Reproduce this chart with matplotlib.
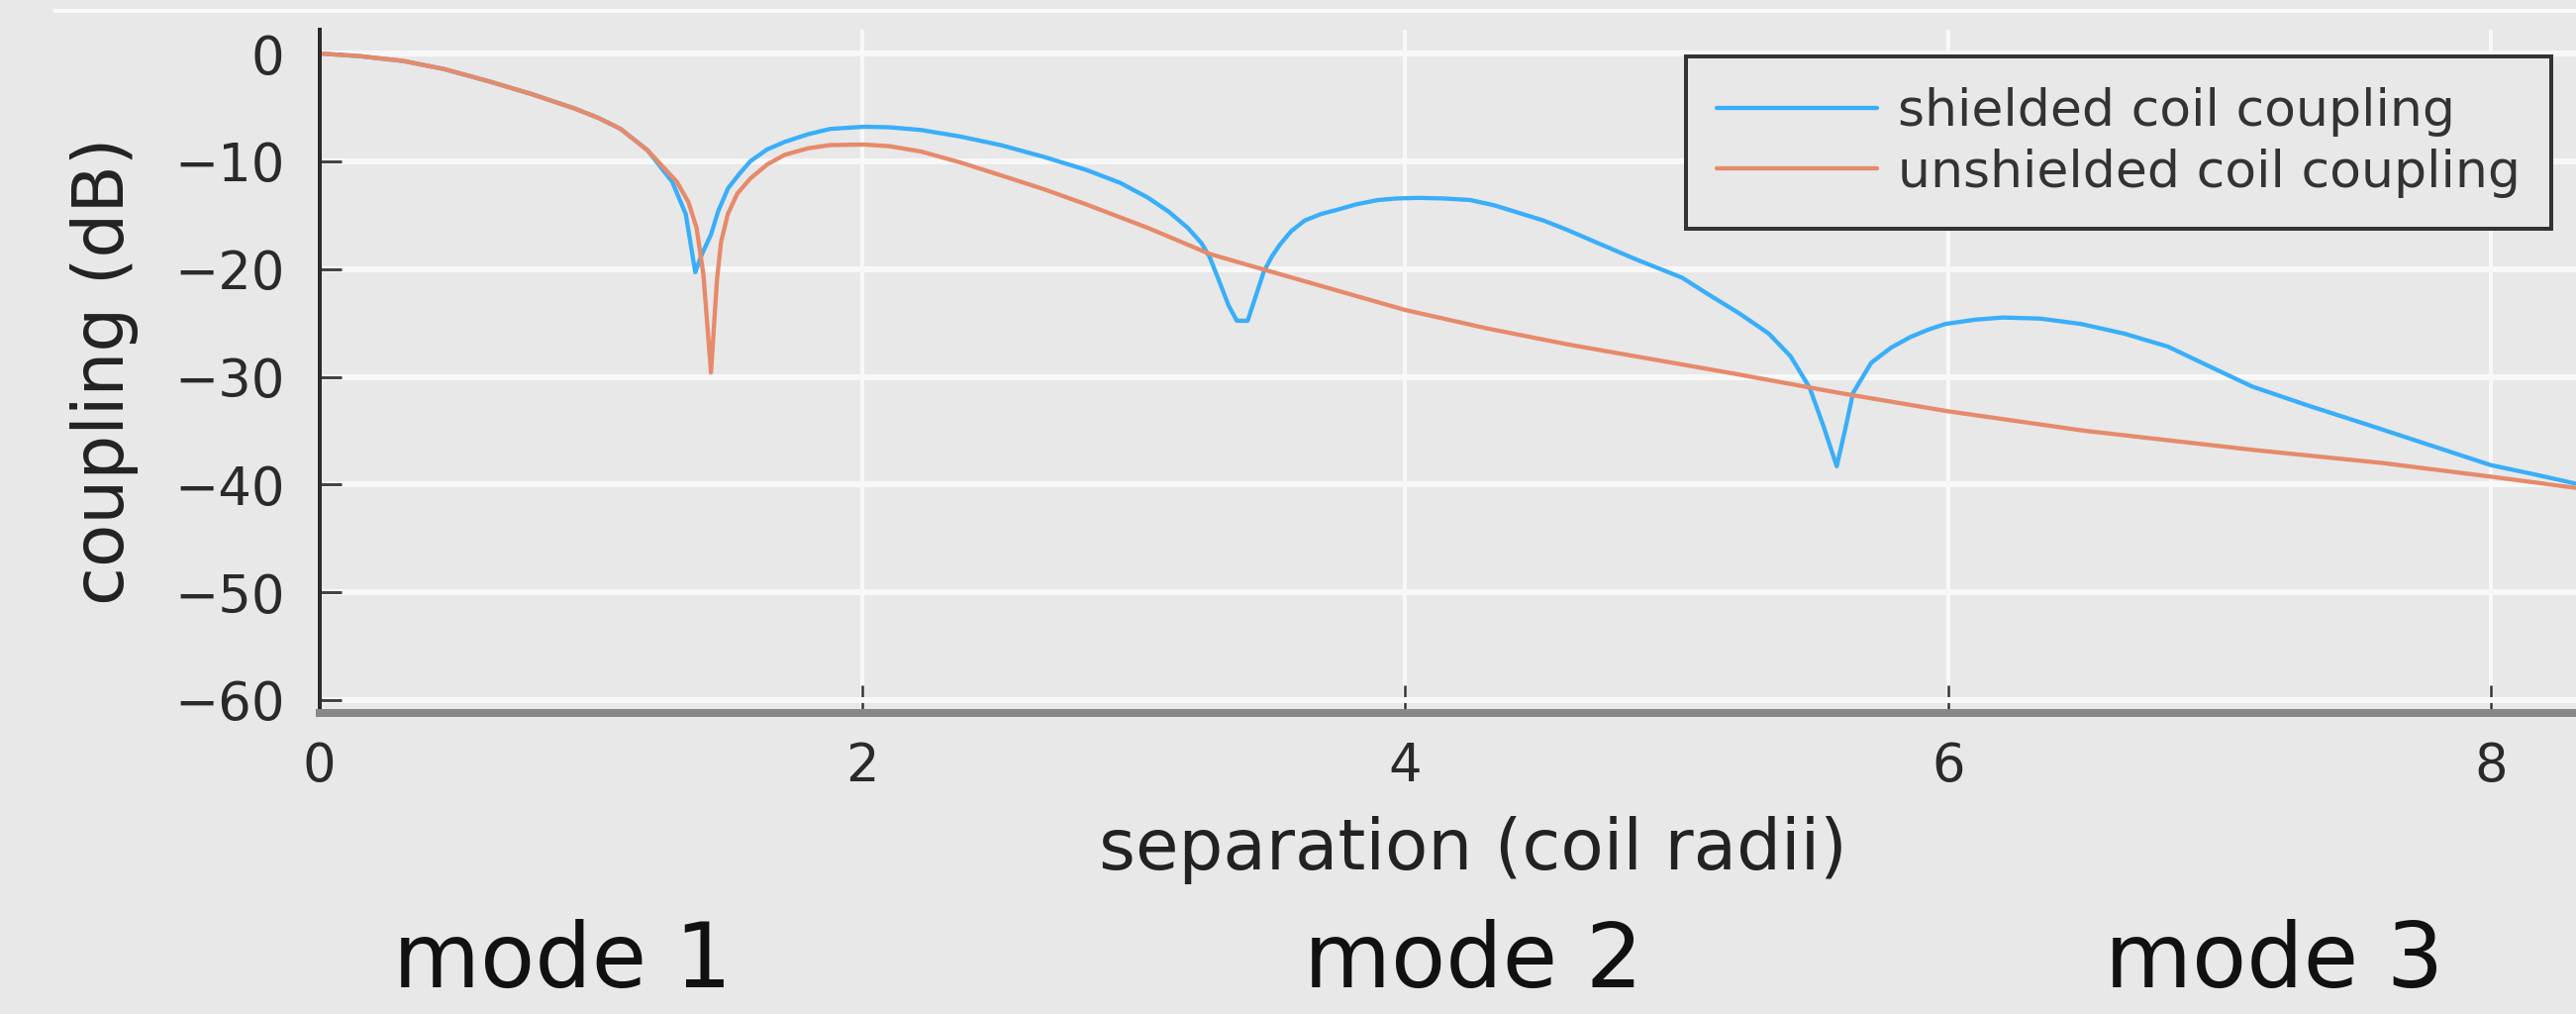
import matplotlib
matplotlib.use("Agg")
import matplotlib.pyplot as plt
from matplotlib.lines import Line2D

# ---- data ----
shielded_x = [0.0, 0.15, 0.31, 0.46, 0.62, 0.78, 0.94, 1.03, 1.11, 1.21, 1.3, 1.35, 1.385,
              1.41, 1.443, 1.47, 1.506, 1.55, 1.588, 1.65, 1.715, 1.8, 1.882, 2.008,
              2.1, 2.217, 2.36, 2.51, 2.67, 2.825, 2.95, 3.054, 3.13, 3.2, 3.25, 3.28,
              3.31, 3.35, 3.38, 3.42, 3.45, 3.48, 3.51, 3.54, 3.58, 3.63, 3.69, 3.75,
              3.82, 3.9, 3.97, 4.05, 4.14, 4.24, 4.33, 4.42, 4.51, 4.6, 4.72, 4.85,
              5.02, 5.12, 5.23, 5.34, 5.42, 5.49, 5.54, 5.59, 5.62, 5.65, 5.717, 5.79,
              5.862, 5.93, 5.99, 6.1, 6.2, 6.34, 6.49, 6.65, 6.81, 6.96, 7.12, 7.33,
              7.54, 7.77, 8.0, 8.15, 8.31]
shielded_db = [0.0, -0.25, -0.7, -1.45, -2.55, -3.75, -5.1, -6.0, -7.0, -9.0, -11.9, -14.9, -20.3,
               -18.6, -16.8, -14.6, -12.5, -11.1, -10.0, -8.9, -8.2, -7.5, -7.0, -6.8,
               -6.85, -7.1, -7.7, -8.5, -9.6, -10.8, -12.0, -13.4, -14.7, -16.2, -17.6, -18.9,
               -20.8, -23.4, -24.8, -24.8, -22.5, -20.2, -18.8, -17.7, -16.5, -15.5, -14.9, -14.5,
               -14.0, -13.6, -13.45, -13.4, -13.45, -13.6, -14.1, -14.8, -15.5, -16.4, -17.7, -19.1,
               -20.8, -22.4, -24.1, -26.0, -28.1, -31.0, -34.5, -38.3, -35.0, -31.5, -28.7, -27.3,
               -26.3, -25.6, -25.1, -24.7, -24.5, -24.6, -25.1, -26.0, -27.2, -29.0, -30.9, -32.7,
               -34.4, -36.3, -38.2, -39.0, -39.9]

unshielded_x = [0.0, 0.15, 0.31, 0.46, 0.62, 0.78, 0.94, 1.03, 1.11, 1.21, 1.317, 1.36, 1.39,
                1.415, 1.443, 1.465, 1.48, 1.505, 1.54, 1.588, 1.65, 1.715, 1.8, 1.882, 2.008,
                2.1, 2.217, 2.36, 2.51, 2.67, 2.825, 3.054, 3.28, 3.5, 3.75, 4.0, 4.3,
                4.6, 5.03, 5.21, 5.6, 6.0, 6.5, 7.13, 7.6, 8.01, 8.31]
unshielded_db = [0.0, -0.25, -0.7, -1.45, -2.55, -3.75, -5.1, -6.0, -7.0, -9.0, -11.9, -13.8, -16.2,
                 -20.5, -29.6, -21.0, -17.5, -14.9, -13.0, -11.6, -10.3, -9.4, -8.8, -8.5, -8.45,
                 -8.6, -9.1, -10.1, -11.3, -12.6, -14.0, -16.2, -18.6, -20.2, -22.0, -23.8, -25.5,
                 -27.0, -28.9, -29.7, -31.5, -33.2, -35.0, -36.8, -38.0, -39.3, -40.3]

series_labels = ["shielded coil coupling", "unshielded coil coupling"]
x_ticks = [0, 2, 4, 6, 8]
y_ticks = [0, -10, -20, -30, -40, -50, -60]
mode_labels = ["mode 1", "mode 2", "mode 3"]

# ---- figure ----
W, H = 2602, 1024
DPI = 100
BG = "#e8e8e8"
plt.rcParams["font.family"] = ["DejaVu Sans"]

fig = plt.figure(figsize=(W / DPI, H / DPI), dpi=DPI, facecolor=BG)

def px(v):  # pixels -> points
    return v * 72.0 / DPI

ax_left, ax_right = 322.5, 2602
ax_top, ax_bottom = 30, 720
ax = fig.add_axes([ax_left / W, 1 - ax_bottom / H, (ax_right - ax_left) / W, (ax_bottom - ax_top) / H])
ax.set_facecolor(BG)

dby = (707 - 54) / 60.0
ax.set_ylim(-(ax_bottom - 54) / dby, (54 - ax_top) / dby)
ax.set_xlim(0, (ax_right - ax_left) / 274.2)

ax.set_axisbelow(True)
ax.yaxis.grid(True, color="#f8f8f8", linewidth=px(6))
ax.xaxis.grid(True, color="#f8f8f8", linewidth=px(4))

ax.plot(shielded_x, shielded_db, color="#3aaef8", linewidth=px(4.3), label=series_labels[0],
        solid_joinstyle="round", solid_capstyle="round")
ax.plot(unshielded_x, unshielded_db, color="#e68a6a", linewidth=px(4.3), label=series_labels[1],
        solid_joinstyle="round", solid_capstyle="round")

ax.set_xticks(x_ticks)
ax.set_yticks(y_ticks)
ax.set_xticklabels([str(v) for v in x_ticks])
ax.set_yticklabels([("\u2212" + str(-v)) if v < 0 else str(v) for v in y_ticks])

ax.tick_params(axis="y", direction="in", length=px(22), width=px(3), color="#444444",
               labelsize=38, labelcolor="#2a2a2a", pad=px(35))
ax.tick_params(axis="x", direction="in", length=px(28), width=px(2.5), color="#333333",
               labelsize=38, labelcolor="#2a2a2a", pad=px(28))

for s in ("top", "right"):
    ax.spines[s].set_visible(False)
ax.spines["left"].set_color("#2b2b2b")
ax.spines["left"].set_linewidth(px(4))
ax.spines["bottom"].set_color("#888888")
ax.spines["bottom"].set_linewidth(px(8))

# axis labels
fig.text(1488 / W, 1 - 878 / H, "separation (coil radii)", fontsize=51, color="#222222",
         ha="center", va="baseline")
fig.text(106 / W, 1 - 375 / H, "coupling (dB)", fontsize=51, color="#222222",
         ha="center", va="center", rotation=90)

# mode labels
for lab, cx in zip(mode_labels, [568, 1488, 2297]):
    fig.text(cx / W, 1 - 997 / H, lab, fontsize=65, color="#111111", ha="center", va="baseline")

# thin white line at the very top
fig.add_artist(Line2D([56 / W, 1.0], [1 - 11 / H, 1 - 11 / H], color="#fafafa", linewidth=px(4)))

leg = ax.legend(loc="upper right", bbox_to_anchor=(2577 / W, 1 - 57 / H),
                bbox_transform=fig.transFigure, fontsize=37.5, frameon=True, fancybox=False,
                handlelength=3.1, handletextpad=0.4, borderpad=0.6, labelspacing=0.22,
                borderaxespad=0)
frame = leg.get_frame()
frame.set_facecolor(BG)
frame.set_edgecolor("#333333")
frame.set_linewidth(px(4))
frame.set_alpha(1)
for t in leg.get_texts():
    t.set_color("#333333")

fig.savefig("out.png", dpi=DPI, facecolor=BG)
